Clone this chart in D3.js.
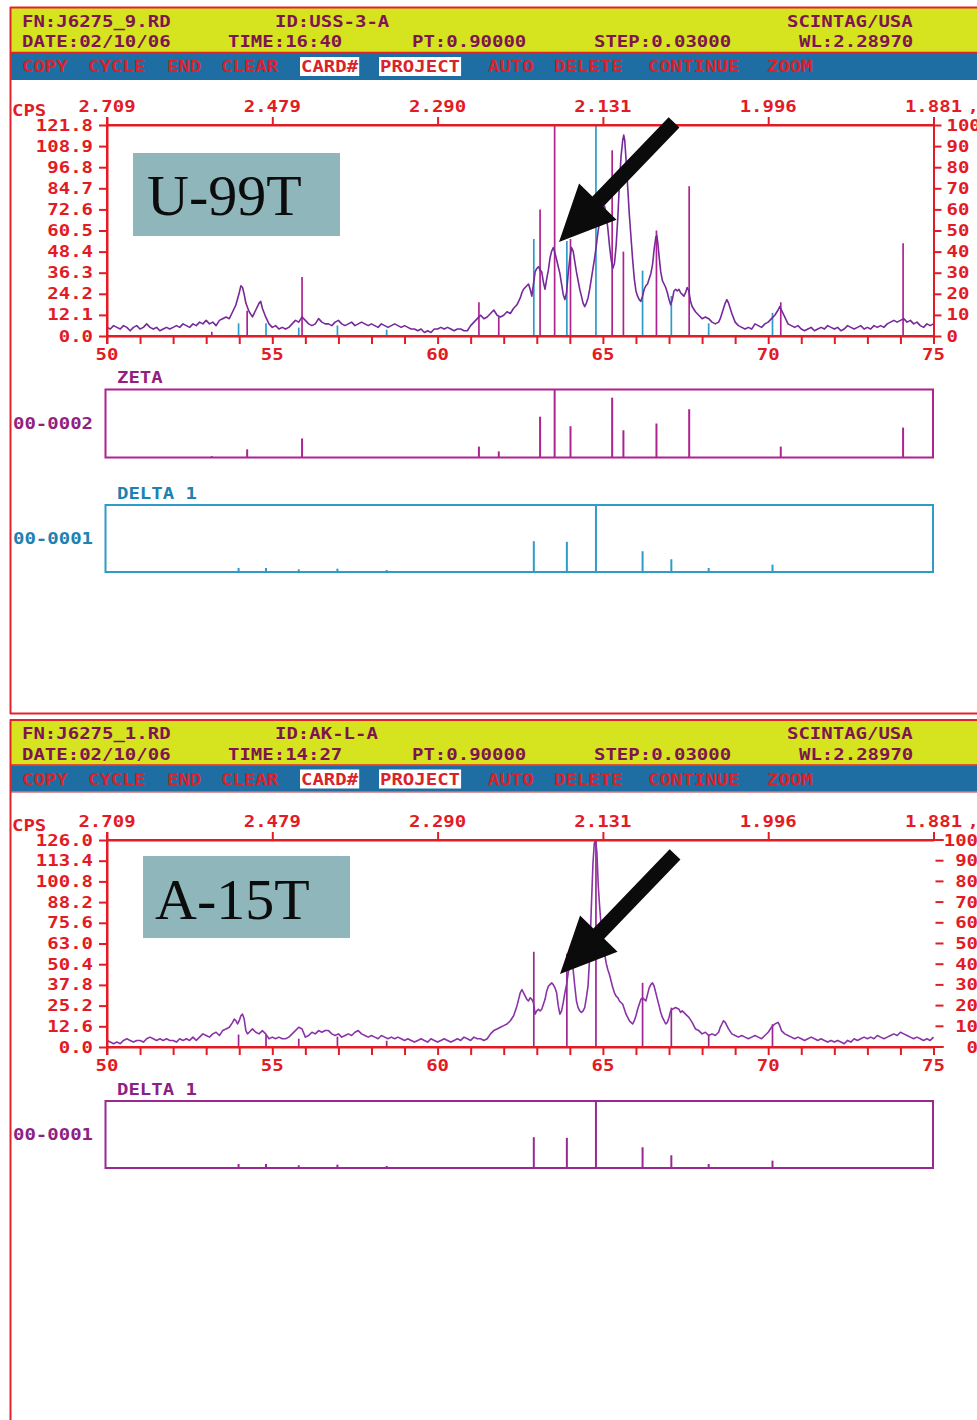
<!DOCTYPE html>
<html>
<head>
<meta charset="utf-8">
<script src="https://cdn.jsdelivr.net/npm/d3@7"></script>
<style>
  html, body { margin: 0; padding: 0; background: #ffffff; }
  svg { display: block; }
  .mono { font-family: "DejaVu Sans Mono", monospace; font-weight: bold; font-size: 19px; }
</style>
</head>
<body>
<script>
// ---------------------------------------------------------------
// Scan data (2-theta in degrees, intensity in counts per second)
// ---------------------------------------------------------------

// U-99T scan
const scanU = [
  [50.0,5],[50.1,4],[50.2,6],[50.3,5],[50.4,4],[50.5,6],[50.6,5],[50.7,3],[50.8,5],[50.9,6],
  [51.0,4],[51.1,5],[51.2,7],[51.3,5],[51.4,4],[51.5,5],[51.6,3],[51.7,4],[51.8,5],[51.9,4],
  [52.0,5],[52.1,6],[52.2,5],[52.3,7],[52.4,6],[52.5,5],[52.6,7],[52.7,6],[52.8,8],[52.9,7],
  [53.0,9],[53.1,7],[53.2,8],[53.3,6],[53.4,9],[53.5,10],[53.6,11],[53.7,10],[53.8,14],[53.9,18],
  [54.0,25],[54.05,29],[54.1,28],[54.15,24],[54.2,19],[54.3,14],[54.4,11],[54.5,15],[54.6,19],[54.65,20],
  [54.7,16],[54.8,11],[54.9,7],[55.0,5],[55.1,6],[55.2,4],[55.3,5],[55.4,4],[55.5,5],[55.6,7],
  [55.7,9],[55.8,8],[55.9,11],[56.0,9],[56.1,7],[56.2,6],[56.3,7],[56.4,10],[56.5,8],[56.6,7],
  [56.7,7],[56.8,6],[56.9,8],[57.0,9],[57.1,7],[57.2,6],[57.3,7],[57.4,8],[57.5,6],[57.6,7],
  [57.7,8],[57.8,7],[57.9,6],[58.0,7],[58.1,6],[58.2,5],[58.3,7],[58.4,6],[58.5,5],[58.6,6],
  [58.7,7],[58.8,6],[58.9,5],[59.0,6],[59.1,5],[59.2,4],[59.3,4],[59.4,3],[59.5,4],[59.6,2],
  [59.7,3],[59.8,2],[59.9,4],[60.0,4],[60.1,5],[60.2,4],[60.3,5],[60.4,4],[60.5,3],[60.6,4],
  [60.7,4],[60.8,3],[60.9,3],[61.0,6],[61.1,8],[61.2,10],[61.3,12],[61.4,10],[61.5,11],[61.6,13],
  [61.7,15],[61.8,12],[61.9,11],[62.0,12],[62.1,14],[62.2,13],[62.3,16],[62.4,18],[62.5,22],[62.55,25],
  [62.6,27],[62.7,29],[62.75,30],[62.8,27],[62.85,23],[62.9,30],[62.95,37],[63.0,39],[63.05,40],[63.1,38],
  [63.15,37],[63.2,31],[63.25,27],[63.3,33],[63.35,38],[63.4,45],[63.45,49],[63.5,51],[63.55,48],[63.6,44],
  [63.65,40],[63.7,36],[63.75,30],[63.8,24],[63.85,21],[63.9,25],[63.95,36],[64.0,45],[64.05,51],[64.1,49],
  [64.15,43],[64.2,37],[64.25,32],[64.3,27],[64.35,23],[64.4,19],[64.45,17],[64.5,19],[64.55,22],[64.6,27],
  [64.65,33],[64.7,39],[64.75,45],[64.8,52],[64.85,60],[64.9,66],[64.95,71],[65.0,74],[65.05,75],[65.1,70],
  [65.15,62],[65.2,52],[65.25,44],[65.3,39],[65.35,42],[65.4,52],[65.45,68],[65.5,88],[65.55,104],[65.6,113],
  [65.63,116],[65.66,113],[65.7,102],[65.75,86],[65.8,70],[65.85,57],[65.9,44],[65.95,33],[66.0,26],[66.05,23],
  [66.1,21],[66.15,20],[66.2,23],[66.25,27],[66.3,29],[66.35,30],[66.4,33],[66.45,36],[66.5,41],[66.55,50],
  [66.6,57],[66.63,58],[66.66,54],[66.7,46],[66.75,37],[66.8,32],[66.85,30],[66.9,28],[66.95,25],[67.0,21],
  [67.05,18],[67.1,21],[67.15,26],[67.2,27],[67.25,26],[67.3,27],[67.35,25],[67.4,24],[67.45,23],[67.5,25],
  [67.55,28],[67.6,26],[67.65,20],[67.7,17],[67.8,14],[67.9,12],[68.0,10],[68.1,11],[68.2,10],[68.3,8],
  [68.4,7],[68.5,8],[68.55,10],[68.6,13],[68.65,16],[68.7,19],[68.75,21],[68.8,19],[68.85,16],[68.9,13],
  [69.0,8],[69.1,6],[69.2,5],[69.3,4],[69.4,5],[69.5,4],[69.6,7],[69.7,6],[69.8,5],[69.9,7],
  [70.0,8],[70.1,10],[70.2,12],[70.3,15],[70.35,17],[70.4,15],[70.5,11],[70.6,7],[70.7,6],[70.8,5],
  [70.9,6],[71.0,4],[71.1,3],[71.2,4],[71.3,5],[71.4,3],[71.5,4],[71.6,5],[71.7,4],[71.8,6],
  [71.9,5],[72.0,4],[72.1,5],[72.2,3],[72.3,4],[72.4,6],[72.5,5],[72.6,4],[72.7,5],[72.8,6],
  [72.9,4],[73.0,5],[73.1,4],[73.2,6],[73.3,5],[73.4,6],[73.5,5],[73.6,7],[73.7,8],[73.8,9],
  [73.9,8],[74.0,9],[74.1,10],[74.2,8],[74.3,9],[74.4,7],[74.5,8],[74.6,6],[74.7,5],[74.8,7],
  [74.9,6],[75.0,7]
];

// A-15T scan
const scanA = [
  [50.0,4],[50.1,3],[50.2,2],[50.3,3],[50.4,2],[50.5,4],[50.6,5],[50.7,4],[50.8,3],[50.9,4],
  [51.0,4],[51.1,3],[51.2,5],[51.3,6],[51.4,5],[51.5,4],[51.6,5],[51.7,4],[51.8,5],[51.9,4],
  [52.0,4],[52.1,3],[52.2,5],[52.3,4],[52.4,5],[52.5,4],[52.6,6],[52.7,4],[52.8,6],[52.9,8],
  [53.0,7],[53.1,6],[53.2,8],[53.3,9],[53.4,7],[53.5,10],[53.6,11],[53.7,12],[53.8,15],[53.85,17],
  [53.9,16],[53.95,14],[54.0,16],[54.05,19],[54.1,20],[54.15,17],[54.2,10],[54.25,8],[54.3,9],[54.4,11],
  [54.5,9],[54.6,8],[54.7,10],[54.8,8],[54.9,5],[55.0,6],[55.1,5],[55.2,6],[55.3,5],[55.4,5],
  [55.5,6],[55.6,8],[55.7,10],[55.8,12],[55.9,11],[56.0,6],[56.1,7],[56.2,9],[56.3,8],[56.4,10],
  [56.5,9],[56.6,10],[56.7,10],[56.8,8],[56.9,7],[57.0,8],[57.1,6],[57.2,7],[57.3,8],[57.4,7],
  [57.5,9],[57.6,10],[57.7,8],[57.8,7],[57.9,6],[58.0,7],[58.1,6],[58.2,5],[58.3,7],[58.4,6],
  [58.5,5],[58.6,6],[58.7,5],[58.8,6],[58.9,5],[59.0,4],[59.1,5],[59.2,4],[59.3,3],[59.4,4],
  [59.5,5],[59.6,4],[59.7,3],[59.8,5],[59.9,4],[60.0,3],[60.1,4],[60.2,5],[60.3,4],[60.4,3],
  [60.5,4],[60.6,5],[60.7,4],[60.8,6],[60.9,5],[61.0,4],[61.1,6],[61.2,5],[61.3,5],[61.4,4],
  [61.5,5],[61.6,8],[61.7,10],[61.8,11],[61.9,12],[62.0,13],[62.1,14],[62.2,16],[62.3,19],[62.4,25],
  [62.45,29],[62.5,33],[62.55,35],[62.6,33],[62.65,31],[62.7,29],[62.75,28],[62.8,30],[62.85,29],[62.9,27],
  [62.95,20],[63.0,22],[63.05,23],[63.1,22],[63.15,23],[63.2,26],[63.25,29],[63.3,34],[63.35,37],[63.4,38],
  [63.45,39],[63.5,38],[63.55,36],[63.6,33],[63.65,25],[63.7,20],[63.75,22],[63.8,27],[63.85,33],[63.9,38],
  [63.95,45],[64.0,51],[64.05,54],[64.1,47],[64.15,37],[64.2,28],[64.25,24],[64.3,22],[64.35,21],[64.4,22],
  [64.45,24],[64.5,30],[64.55,37],[64.6,55],[64.65,85],[64.7,112],[64.74,124],[64.78,126],[64.82,118],[64.86,98],
  [64.9,86],[64.95,73],[65.0,64],[65.05,57],[65.1,51],[65.15,47],[65.2,44],[65.25,40],[65.3,36],[65.35,33],
  [65.4,31],[65.45,30],[65.5,28],[65.6,26],[65.65,23],[65.7,20],[65.75,18],[65.8,16],[65.85,15],[65.9,14],
  [65.95,16],[66.0,19],[66.05,23],[66.1,26],[66.15,29],[66.2,30],[66.25,29],[66.3,28],[66.35,32],[66.4,36],
  [66.45,38],[66.5,39],[66.55,37],[66.6,33],[66.65,29],[66.7,25],[66.75,21],[66.8,18],[66.85,16],[66.9,14],
  [66.95,15],[67.0,18],[67.05,22],[67.1,23],[67.2,24],[67.3,23],[67.35,21],[67.4,22],[67.5,20],[67.6,18],
  [67.7,15],[67.8,11],[67.9,10],[68.0,8],[68.1,9],[68.2,7],[68.3,8],[68.4,7],[68.5,9],[68.55,12],
  [68.6,14],[68.65,16],[68.7,15],[68.75,13],[68.8,11],[68.9,8],[69.0,7],[69.1,6],[69.2,7],[69.3,6],
  [69.4,5],[69.5,6],[69.6,7],[69.7,6],[69.8,5],[69.9,7],[70.0,9],[70.1,12],[70.2,14],[70.3,15],
  [70.35,13],[70.4,10],[70.5,8],[70.6,7],[70.7,6],[70.8,5],[70.9,6],[71.0,5],[71.1,4],[71.2,5],
  [71.3,6],[71.4,5],[71.5,4],[71.6,5],[71.7,4],[71.8,3],[71.9,4],[72.0,3],[72.1,4],[72.2,3],
  [72.3,2],[72.4,4],[72.5,3],[72.6,5],[72.7,4],[72.8,5],[72.9,6],[73.0,5],[73.1,6],[73.2,5],
  [73.3,7],[73.4,6],[73.5,5],[73.6,6],[73.7,7],[73.8,8],[73.9,7],[74.0,9],[74.1,8],[74.2,7],
  [74.3,6],[74.4,5],[74.5,6],[74.6,5],[74.7,4],[74.8,5],[74.9,4],[75.0,6]
];

// Reference cards: [2-theta, relative intensity %]
const cardZeta = [
  [53.17,2],[54.24,12],[55.90,28],[61.25,16],[61.85,9],[63.10,60],[63.54,100],
  [64.02,46],[65.28,88],[65.62,40],[66.62,50],[67.61,71],[70.38,16],[74.08,44]
];
const cardDelta1 = [
  [53.98,6],[54.81,6],[55.80,4],[56.97,5],[58.46,3],[62.91,46],[63.91,45],
  [64.79,100],[66.20,31],[67.07,19],[68.20,6],[70.13,11]
];

// Axis labels
const twoThetaTicks = [50, 51, 52, 53, 54, 55, 56, 57, 58, 59, 60, 61, 62, 63, 64, 65, 66, 67, 68, 69, 70, 71, 72, 73, 74, 75];
const twoThetaLabeled = [50, 55, 60, 65, 70, 75];
const dSpacingAt = [50, 55, 60, 65, 70, 75];
const dSpacingLabels = ["2.709", "2.479", "2.290", "2.131", "1.996", "1.881"];
const cpsLabelsU = ["0.0", "12.1", "24.2", "36.3", "48.4", "60.5", "72.6", "84.7", "96.8", "108.9", "121.8"];
const cpsLabelsA = ["0.0", "12.6", "25.2", "37.8", "50.4", "63.0", "75.6", "88.2", "100.8", "113.4", "126.0"];
const pctTicks = [0, 10, 20, 30, 40, 50, 60, 70, 80, 90, 100];

// Header and menu text
const headerU = [["FN:J6275_9.RD", "ID:USS-3-A", "SCINTAG/USA"],
                 ["DATE:02/10/06", "TIME:16:40", "PT:0.90000", "STEP:0.03000", "WL:2.28970"]];
const headerA = [["FN:J6275_1.RD", "ID:AK-L-A", "SCINTAG/USA"],
                 ["DATE:02/10/06", "TIME:14:27", "PT:0.90000", "STEP:0.03000", "WL:2.28970"]];
const menuItems = ["COPY", "CYCLE", "END", "CLEAR", "CARD#", "PROJECT", "AUTO", "DELETE", "CONTINUE", "ZOOM"];
const menuBoxed = ["CARD#", "PROJECT"];

// ---------------------------------------------------------------
// Layout
// ---------------------------------------------------------------
const W = 977, H = 1420;
const LAYOUT = {
  headerRow1X: [22, 275, 787],
  headerRow2X: [22, 228, 412, 594, 799],
  menuX: [22, 88, 167, 221, 301, 380, 488, 554, 648, 767],
  plotLeft: 107, plotRight: 933.5
};
const C = {
  frame: "#e3232c", red: "#e31b25", yellow: "#d5e41f", blue: "#1f6ea3",
  headText: "#7e1450", menuText: "#d9232b",
  traceU: "#76299a", traceA: "#8a33a6",
  zeta: "#ad2390", zetaText: "#941f80",
  delta: "#2f9cc8", deltaText: "#1c82b1",
  deltaA: "#9a2892", deltaAText: "#8e1f86",
  labelBox: "#8fb7bb"
};
const CHAR_W = 11.44;      // advance of the screen font
const SQUASH = 0.82;       // vertical squash of the screen font

const svg = d3.select("body").append("svg")
  .attr("width", W).attr("height", H)
  .attr("viewBox", `0 0 ${W} ${H}`);

const x = d3.scaleLinear().domain([50, 75]).range([LAYOUT.plotLeft, LAYOUT.plotRight]);

// Blocky screen-style text; (px, py) is the baseline anchor point
function pixText(g, str, px, py, color, anchor) {
  return g.append("text").attr("class", "mono")
    .attr("transform", `translate(${px},${py}) scale(1,${SQUASH})`)
    .attr("fill", color)
    .attr("text-anchor", anchor || "start")
    .text(str);
}

// Screen header: yellow status bar + blue menu bar, with the red page frame
function drawHeader(top, bottomEdge, header) {
  const g = svg.append("g");
  g.append("rect").attr("x", 11).attr("y", top + 1).attr("width", W).attr("height", 45).attr("fill", C.yellow);
  g.append("rect").attr("x", 11).attr("y", top + 46).attr("width", W).attr("height", 26).attr("fill", C.blue);
  g.append("line").attr("x1", 10).attr("x2", W).attr("y1", top + 0.5).attr("y2", top + 0.5)
    .attr("stroke", C.frame).attr("stroke-width", 2);
  g.append("line").attr("x1", 10).attr("x2", W).attr("y1", top + 45.5).attr("y2", top + 45.5)
    .attr("stroke", C.frame).attr("stroke-width", 1.6);
  g.append("line").attr("x1", 10).attr("x2", W).attr("y1", top + 72.5).attr("y2", top + 72.5)
    .attr("stroke", "#b8343c").attr("stroke-width", 1.2);
  // page frame
  g.append("line").attr("x1", 10.5).attr("x2", 10.5).attr("y1", top).attr("y2", bottomEdge)
    .attr("stroke", C.frame).attr("stroke-width", 2);
  if (bottomEdge < H) {
    g.append("line").attr("x1", 10).attr("x2", W).attr("y1", bottomEdge - 0.5).attr("y2", bottomEdge - 0.5)
      .attr("stroke", C.frame).attr("stroke-width", 2);
  }
  header[0].forEach((s, i) => pixText(g, s, LAYOUT.headerRow1X[i], top + 19.5, C.headText));
  header[1].forEach((s, i) => pixText(g, s, LAYOUT.headerRow2X[i], top + 40, C.headText));
  menuItems.forEach((s, i) => {
    const mx = LAYOUT.menuX[i];
    if (menuBoxed.includes(s)) {
      g.append("rect").attr("x", mx - 1).attr("y", top + 50).attr("width", s.length * CHAR_W + 2)
        .attr("height", 19).attr("fill", "#ffffff");
    }
    pixText(g, s, mx, top + 65, C.menuText);
  });
}

// One diffractogram with axes, overlaid reference sticks, sample label and arrow
function drawScan(o) {
  const g = svg.append("g");
  const y = d3.scaleLinear().domain([0, o.yMax]).range([o.bottom, o.top]);
  const pct = d3.scaleLinear().domain([0, 100]).range([o.bottom, o.top]);
  const L = LAYOUT.plotLeft, R = LAYOUT.plotRight;
  const cpsTicks = d3.range(0, 11).map(i => i * o.yMax / 10);

  // sample name plate
  g.append("rect").attr("x", o.plate.x).attr("y", o.plate.y).attr("width", o.plate.w).attr("height", o.plate.h)
    .attr("fill", C.labelBox);
  g.append("text").attr("x", o.plate.tx).attr("y", o.plate.ty)
    .attr("font-family", '"Liberation Serif", "Times New Roman", serif')
    .attr("font-size", 58).attr("fill", "#0c0c0c").text(o.name);

  // reference sticks drawn from the baseline
  o.sticks.forEach(st => {
    g.append("g").selectAll("line").data(st.data).join("line")
      .attr("x1", d => x(d[0])).attr("x2", d => x(d[0]))
      .attr("y1", pct(0)).attr("y2", d => pct(d[1]))
      .attr("stroke", st.color).attr("stroke-width", 1.7);
  });

  // measured trace
  g.append("path").datum(o.scan)
    .attr("d", d3.line().x(d => x(d[0])).y(d => y(d[1])))
    .attr("fill", "none").attr("stroke", o.traceColor).attr("stroke-width", 1.6)
    .attr("stroke-linejoin", "round");

  const styleAxis = (sel) => {
    sel.selectAll("path.domain").attr("stroke", C.red).attr("stroke-width", 2);
    sel.selectAll(".tick line").attr("stroke", C.red).attr("stroke-width", 2);
    sel.selectAll(".tick text").remove();
  };

  // bottom 2-theta axis
  const ax = g.append("g").attr("transform", `translate(0,${o.bottom})`)
    .call(d3.axisBottom(x).tickValues(twoThetaTicks).tickSize(8).tickSizeOuter(0));
  styleAxis(ax);
  twoThetaLabeled.forEach(v => pixText(g, String(v), x(v), o.bottom + 24, C.red, "middle"));

  // top d-spacing axis
  const at = g.append("g").attr("transform", `translate(0,${o.top})`)
    .call(d3.axisTop(x).tickValues(dSpacingAt).tickSize(8).tickSizeOuter(0));
  styleAxis(at);
  dSpacingAt.forEach((v, i) => pixText(g, dSpacingLabels[i], x(v), o.top - 13.5, C.red, "middle"));
  pixText(g, ",", R + 34, o.top - 13.5, C.red);

  // left intensity axis
  const al = g.append("g").attr("transform", `translate(${L},0)`)
    .call(d3.axisLeft(y).tickValues(cpsTicks).tickSize(8).tickSizeOuter(0));
  styleAxis(al);
  cpsTicks.forEach((v, i) => pixText(g, o.cpsLabels[i], L - 14, y(v) + 5.5, C.red, "end"));
  // left axis line continues up through the 2.709 label
  g.append("line").attr("x1", L).attr("x2", L).attr("y1", o.top - 8).attr("y2", o.bottom + 8)
    .attr("stroke", C.red).attr("stroke-width", 2);
  pixText(g, "CPS", 12, o.top - 9, C.red);

  // right relative-intensity axis
  if (o.rightLine) {
    const ar = g.append("g").attr("transform", `translate(${R},0)`)
      .call(d3.axisRight(pct).tickValues(pctTicks).tickSize(8).tickSizeOuter(0));
    styleAxis(ar);
    pctTicks.forEach(v => pixText(g, String(v), R + 13, pct(v) + 5.5, C.red));
  } else {
    const ar = g.append("g");
    ar.selectAll("line").data(pctTicks).join("line")
      .attr("x1", d => d === 100 || d === 0 ? R : R + 2).attr("x2", R + 10)
      .attr("y1", d => pct(d)).attr("y2", d => pct(d))
      .attr("stroke", C.red).attr("stroke-width", 2);
    pctTicks.forEach(v => pixText(g, String(v), W + 1, pct(v) + 5.5, C.red, "end"));
  }

  // frame top line / bottom line
  g.append("line").attr("x1", L).attr("x2", o.rightLine ? R : R + 10).attr("y1", o.top).attr("y2", o.top)
    .attr("stroke", C.red).attr("stroke-width", 2);
  g.append("line").attr("x1", L).attr("x2", o.rightLine ? R : R + 10).attr("y1", o.bottom).attr("y2", o.bottom)
    .attr("stroke", C.red).attr("stroke-width", 2);

  // pointer arrow
  const tip = o.arrow.tip, ang = Math.atan2(-1.04, 1);   // direction from tip toward tail
  const ux = Math.cos(ang), uy = Math.sin(ang), nx = -uy, ny = ux;
  const len = 166, headLen = 56, headHalf = 26, shaftHalf = 7.5;
  const p = (a, b) => [tip[0] + ux * a + nx * b, tip[1] + uy * a + ny * b];
  const pts = [p(0, 0), p(headLen, headHalf), p(headLen, shaftHalf), p(len, shaftHalf),
               p(len, -shaftHalf), p(headLen, -shaftHalf), p(headLen, -headHalf)];
  g.append("polygon").attr("points", pts.map(q => q.join(",")).join(" ")).attr("fill", "#0b0b0b");
}

// Reference card strip below a scan
function drawCard(o) {
  const g = svg.append("g");
  const py = d3.scaleLinear().domain([0, 100]).range([o.bottom, o.top]);
  pixText(g, o.title, 117, o.top - 6.5, o.textColor);
  pixText(g, o.code, 13, (o.top + o.bottom) / 2 + 5, o.textColor);
  g.selectAll("line.stick").data(o.data).join("line").attr("class", "stick")
    .attr("x1", d => x(d[0])).attr("x2", d => x(d[0]))
    .attr("y1", py(0)).attr("y2", d => py(d[1]))
    .attr("stroke", o.color).attr("stroke-width", 2);
  g.append("rect").attr("x", 105.5).attr("y", o.top).attr("width", 827.5).attr("height", o.bottom - o.top)
    .attr("fill", "none").attr("stroke", o.color).attr("stroke-width", 2);
}

// ---------------- upper screen: U-99T ----------------
drawHeader(7, 714, headerU);
drawScan({
  name: "U-99T", top: 125, bottom: 336, yMax: 121.8, cpsLabels: cpsLabelsU,
  scan: scanU, traceColor: C.traceU, rightLine: true,
  sticks: [{ data: cardDelta1, color: C.delta }, { data: cardZeta, color: C.zeta }],
  plate: { x: 133, y: 153, w: 207, h: 83, tx: 147, ty: 215 },
  arrow: { tip: [559, 242] }
});
drawCard({ title: "ZETA", code: "00-0002", top: 389.5, bottom: 457.5, data: cardZeta, color: C.zeta, textColor: C.zetaText });
drawCard({ title: "DELTA 1", code: "00-0001", top: 505, bottom: 572, data: cardDelta1, color: C.delta, textColor: C.deltaText });

// ---------------- lower screen: A-15T ----------------
drawHeader(719.5, H + 2, headerA);
drawScan({
  name: "A-15T", top: 840, bottom: 1047, yMax: 126.0, cpsLabels: cpsLabelsA,
  scan: scanA, traceColor: C.traceA, rightLine: false,
  sticks: [{ data: cardDelta1, color: C.deltaA }],
  plate: { x: 143, y: 856, w: 207, h: 82, tx: 155, ty: 919 },
  arrow: { tip: [560, 974] }
});
drawCard({ title: "DELTA 1", code: "00-0001", top: 1101, bottom: 1168, data: cardDelta1, color: C.deltaA, textColor: C.deltaAText });
</script>
</body>
</html>
